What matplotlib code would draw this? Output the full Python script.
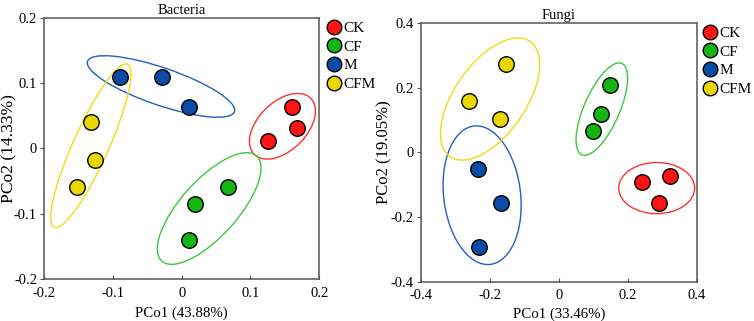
import matplotlib
matplotlib.use("Agg")
import matplotlib.pyplot as plt
from matplotlib.patches import Ellipse
from matplotlib.lines import Line2D

plt.rcParams['font.family'] = ['Liberation Serif', 'DejaVu Serif']

groups = ["CK", "CF", "M", "CFM"]
fill_colors = ["#FF1414", "#14B414", "#0A4BA5", "#EBD700"]
ring_colors = ["#FF3030", "#3CC83C", "#2160BD", "#F0DC14"]

# Bacteria PCoA scores (PCo1, PCo2)
bac_x = {"CK": [0.161, 0.167, 0.126],
         "CF": [0.067, 0.020, 0.011],
         "M": [-0.090, -0.029, 0.011],
         "CFM": [-0.132, -0.126, -0.152]}
bac_y = {"CK": [0.063, 0.031, 0.011],
         "CF": [-0.059, -0.085, -0.141],
         "M": [0.110, 0.110, 0.063],
         "CFM": [0.040, -0.017, -0.059]}
# group ellipses: centre x, centre y, width, height, angle
bac_ell = {"CK": (0.1465, 0.034, 0.119, 0.072, 48),
           "CF": (0.040, -0.092, 0.212, 0.084, 50),
           "M": (-0.030, 0.095, 0.227, 0.057, -20),
           "CFM": (-0.132, 0.004, 0.272, 0.052, 67)}

# Fungi PCoA scores
fun_x = {"CK": [0.241, 0.322, 0.290],
         "CF": [0.148, 0.122, 0.100],
         "M": [-0.234, -0.168, -0.232],
         "CFM": [-0.152, -0.259, -0.171]}
fun_y = {"CK": [-0.091, -0.073, -0.157],
         "CF": [0.207, 0.120, 0.065],
         "M": [-0.052, -0.155, -0.291],
         "CFM": [0.274, 0.160, 0.102]}
fun_ell = {"CK": (0.284, -0.110, 0.220, 0.158, 0),
           "CF": (0.125, 0.134, 0.305, 0.104, 68),
           "M": (-0.222, -0.132, 0.430, 0.223, 96),
           "CFM": (-0.199, 0.165, 0.425, 0.211, 58)}

panels = [
    ("Bacteria", bac_x, bac_y, bac_ell, "PCo1 (43.88%)", "PCo2 (14.33%)", 12.6,
     0.2, [-0.2, -0.1, 0, 0.1, 0.2], ["-0.2", "-0.1", "0", "0.1", "0.2"]),
    ("Fungi", fun_x, fun_y, fun_ell, "PCo1 (33.46%)", "PCo2 (19.05%)", 12,
     0.4, [-0.4, -0.2, 0, 0.2, 0.4], ["-0.4", "-0.2", "0", "0.2", "0.4"]),
]

fig = plt.figure(figsize=(7.54, 3.21), dpi=100)
axes_pos = [[0.0584, 0.131, 0.365, 0.813], [0.558, 0.1215, 0.366, 0.807]]
legend_pos = [(0.433, 0.934), (0.932, 0.918)]
ylabel_x = [-0.097, -0.102]
xtick_pad = [6, 5]
xlabel_pad = [4.6, 4.2]

for pos, lpos, ylx, tp, lp, (title, xs, ys, ells, xl, yl, ylsize, lim, ticks, tlabels) in zip(
        axes_pos, legend_pos, ylabel_x, xtick_pad, xlabel_pad, panels):
    ax = fig.add_axes(pos)
    for g, fc, rc in zip(groups, fill_colors, ring_colors):
        cx, cy, w, h, ang = ells[g]
        ax.add_patch(Ellipse((cx, cy), w, h, angle=ang, fill=False,
                             edgecolor=rc, linewidth=1.0, zorder=2))
        ax.scatter(xs[g], ys[g], s=125, c=fc, edgecolors="black",
                   linewidths=1.0, zorder=3)
    ax.set_xlim(-lim, lim)
    ax.set_ylim(-lim, lim)
    ax.set_xticks(ticks)
    ax.set_xticklabels(tlabels)
    ax.set_yticks(ticks)
    ax.set_yticklabels(tlabels)
    ax.tick_params(axis="x", direction="in", length=3, color="#555555", labelsize=10.5, pad=tp)
    ax.tick_params(axis="y", direction="out", length=3, color="#555555", labelsize=10.5, pad=2)
    for s in ax.spines.values():
        s.set_color("#555555")
        s.set_linewidth(1.1)
    ax.set_title(title, fontsize=10.5, pad=3)
    ax.set_xlabel(xl, fontsize=10.7, labelpad=lp)
    ax.set_ylabel(yl, fontsize=ylsize)
    ax.yaxis.set_label_coords(ylx, 0.5)

    handles = [Line2D([], [], linestyle="none", marker="o", markersize=10.5,
                      markerfacecolor=fc, markeredgecolor="black",
                      markeredgewidth=1.0, label=g)
               for g, fc in zip(groups, fill_colors)]
    fig.legend(handles=handles, loc="upper left", bbox_to_anchor=lpos,
               frameon=False, fontsize=11, handlelength=1.0,
               handletextpad=0.1, labelspacing=0.33, borderpad=0,
               borderaxespad=0)

fig.savefig("out.png", dpi=100)
